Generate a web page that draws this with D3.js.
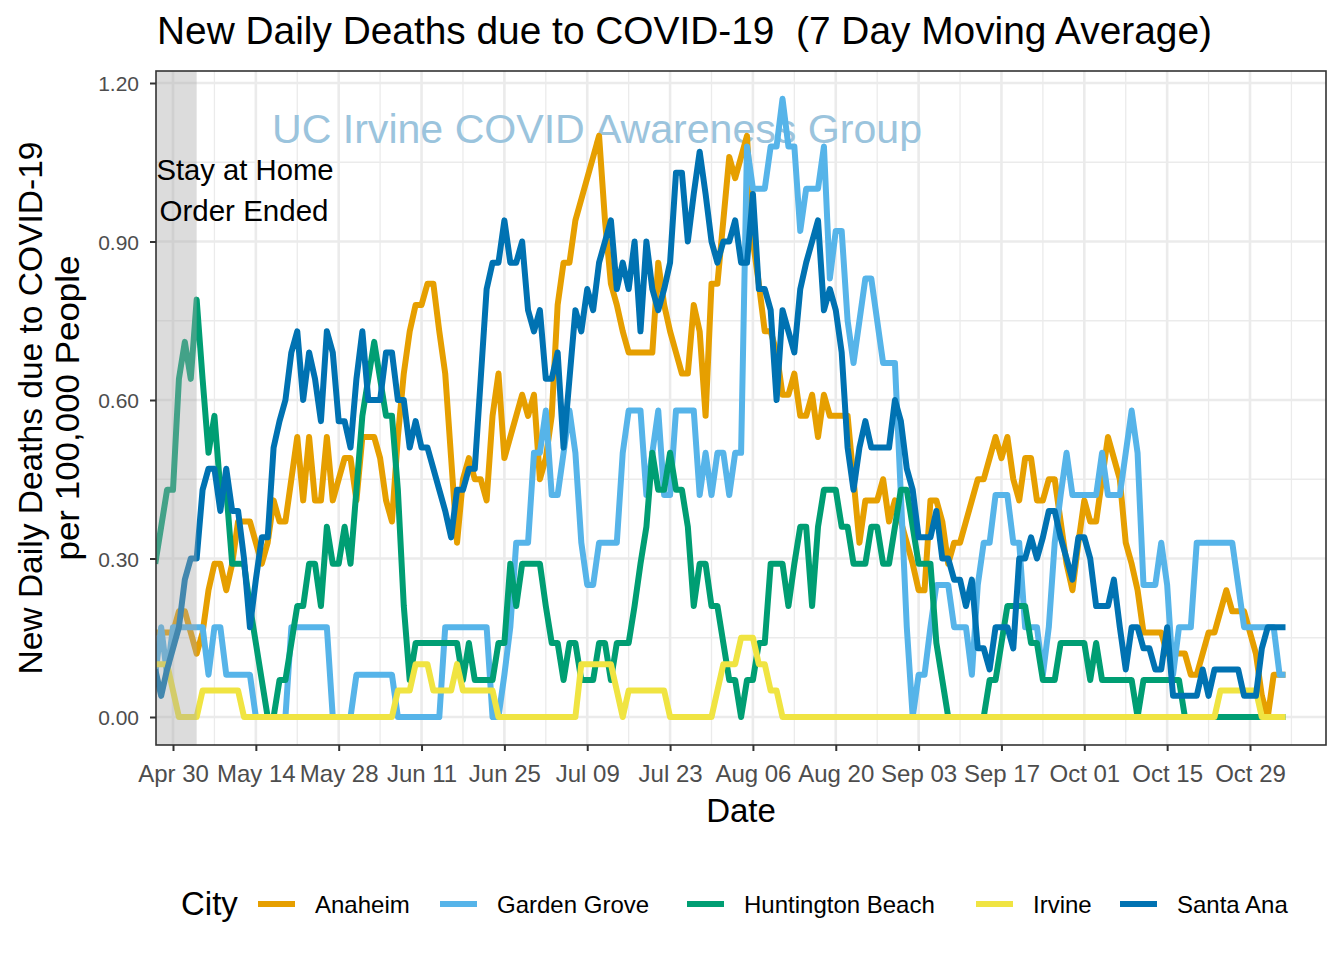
<!DOCTYPE html>
<html><head><meta charset="utf-8">
<script src="https://cdn.jsdelivr.net/npm/d3@7"></script>
<style>
body{margin:0;background:#fff}
svg{display:block}
text{font-family:"Liberation Sans",Arial,Helvetica,sans-serif}
</style>
</head><body>
<svg id="chart" width="1344" height="960"></svg>
<script>
// ---------------- DATA ----------------
const startDate = "2020-04-27";   // first day of every series (one value per day)
const cities = ["Anaheim", "Garden Grove", "Huntington Beach", "Irvine", "Santa Ana"];
const cityColors = ["#E69F00", "#56B4E9", "#009E73", "#F0E442", "#0072B2"];

const anaheim = [
 .16,.16,.16,.16,.20,.20,.16,.12,.16,.24,
 .29,.29,.24,.29,.37,.37,.37,.33,.29,.33,
 .41,.37,.37,.45,.53,.41,.53,.41,.41,.53,
 .41,.45,.49,.49,.41,.53,.53,.53,.49,.41,
 .37,.53,.65,.73,.78,.78,.82,.82,.73,.65,
 .49,.33,.45,.49,.45,.45,.41,.57,.65,.49,
 .53,.57,.61,.57,.61,.45,.49,.57,.78,.86,
 .86,.94,.98,1.02,1.06,1.10,.94,.82,.78,.73,
 .69,.69,.69,.69,.69,.86,.78,.73,.69,.65,
 .65,.78,.73,.57,.82,.82,.94,1.06,1.02,1.06,
 1.10,.90,.82,.73,.73,.69,.61,.61,.65,.57,
 .57,.61,.53,.61,.57,.57,.57,.57,.45,.33,
 .41,.41,.41,.45,.37,.41,.37,.33,.29,.24,
 .24,.41,.41,.37,.29,.33,.33,.37,.41,.45,
 .45,.49,.53,.49,.53,.45,.41,.49,.49,.41,
 .41,.45,.45,.37,.29,.24,.33,.41,.37,.37,
 .45,.53,.49,.45,.33,.29,.24,.16,.16,.16,
 .16,.12,.12,.12,.12,.08,.08,.12,.16,.16,
 .20,.24,.20,.20,.20,.16,.12,.04,0,.08,
 .08,.08
];
const gardenGrove = [
 .08,.17,.08,.17,.17,.17,.17,.17,.17,.08,
 .17,.17,.08,.08,.08,.08,.08,0,0,0,
 0,0,0,.17,.17,.17,.17,.17,.17,.17,
 0,0,0,0,.08,.08,.08,.08,.08,.08,
 .08,0,0,0,0,0,0,0,0,.17,
 .17,.17,.17,.17,.17,.17,.17,0,0,.08,
 .17,.33,.33,.33,.50,.50,.58,.42,.42,.50,
 .58,.50,.33,.25,.25,.33,.33,.33,.33,.50,
 .58,.58,.58,.42,.50,.58,.42,.42,.58,.58,
 .58,.58,.42,.50,.42,.50,.50,.42,.50,.50,
 1.08,1.00,1.00,1.00,1.08,1.08,1.17,1.08,1.08,.92,
 1.00,1.00,1.00,1.08,.83,.92,.92,.75,.67,.75,
 .83,.83,.75,.67,.67,.67,.42,.17,0,.08,
 .08,.17,.25,.25,.25,.17,.17,.17,.08,.25,
 .33,.33,.42,.42,.42,.33,.33,.17,.17,.17,
 .08,.17,.33,.42,.50,.42,.42,.42,.42,.42,
 .50,.42,.42,.42,.50,.58,.50,.25,.25,.25,
 .33,.25,.08,.17,.17,.17,.33,.33,.33,.33,
 .33,.33,.33,.25,.17,.17,.17,.17,.17,.17,
 .08,.08
];
const huntingtonBeach = [
 .29,.36,.43,.43,.64,.71,.64,.79,.64,.50,
 .57,.43,.43,.29,.29,.29,.21,.14,.07,0,
 0,.07,.07,.14,.21,.21,.29,.29,.21,.36,
 .29,.29,.36,.29,.43,.57,.64,.71,.64,.57,
 .57,.43,.21,.07,.14,.14,.14,.14,.14,.14,
 .14,.14,.07,.14,.07,.07,.07,.07,.14,.14,
 .29,.21,.29,.29,.29,.29,.21,.14,.14,.07,
 .14,.14,.07,.07,.07,.14,.14,.07,.14,.14,
 .14,.21,.29,.36,.50,.43,.43,.50,.43,.43,
 .36,.21,.29,.29,.21,.21,.14,.07,.07,0,
 .07,.07,.14,.14,.29,.29,.29,.21,.29,.36,
 .36,.21,.36,.43,.43,.43,.36,.36,.29,.29,
 .29,.36,.36,.29,.29,.36,.43,.43,.36,.29,
 .29,.29,.14,.07,0,0,0,0,0,0,
 0,.07,.07,.14,.21,.21,.21,.21,.14,.14,
 .07,.07,.07,.14,.14,.14,.14,.14,.07,.14,
 .07,.07,.07,.07,.07,.07,0,.07,.07,.07,
 .07,.07,.07,.07,0,0,0,0,0,0,
 0,0,0,0,0,0,0,0,0,0,
 0,0
];
const irvine = [
 .10,.10,.10,.05,0,0,0,0,.05,.05,
 .05,.05,.05,.05,.05,0,0,0,0,0,
 0,0,0,0,0,0,0,0,0,0,
 0,0,0,0,0,0,0,0,0,0,
 0,.05,.05,.05,.10,.10,.10,.05,.05,.05,
 .05,.10,.05,.05,.05,.05,.05,.05,0,0,
 0,0,0,0,0,0,0,0,0,0,
 0,0,.10,.10,.10,.10,.10,.10,.05,0,
 .05,.05,.05,.05,.05,.05,.05,0,0,0,
 0,0,0,0,0,.05,.10,.10,.10,.15,
 .15,.15,.10,.10,.05,.05,0,0,0,0,
 0,0,0,0,0,0,0,0,0,0,
 0,0,0,0,0,0,0,0,0,0,
 0,0,0,0,0,0,0,0,0,0,
 0,0,0,0,0,0,0,0,0,0,
 0,0,0,0,0,0,0,0,0,0,
 0,0,0,0,0,0,0,0,0,0,
 0,0,0,0,0,0,0,0,0,0,
 .05,.05,.05,.05,.05,.05,.05,0,0,0,
 0,0
];
const santaAna = [
 .09,.04,.09,.13,.17,.26,.30,.30,.43,.47,
 .47,.39,.47,.39,.39,.30,.17,.26,.34,.34,
 .51,.56,.60,.69,.73,.60,.69,.64,.56,.73,
 .69,.56,.56,.51,.64,.73,.60,.60,.60,.69,
 .69,.60,.60,.51,.56,.51,.51,.47,.43,.39,
 .34,.43,.43,.47,.47,.64,.81,.86,.86,.94,
 .86,.86,.90,.77,.73,.77,.64,.64,.69,.51,
 .64,.77,.73,.81,.77,.86,.90,.94,.81,.86,
 .81,.90,.73,.90,.81,.77,.81,.86,1.03,1.03,
 .90,.99,1.07,.99,.90,.86,.90,.90,.94,.86,
 .86,.99,.81,.81,.77,.60,.77,.73,.69,.81,
 .86,.90,.94,.77,.81,.77,.69,.51,.43,.51,
 .56,.51,.51,.51,.51,.60,.56,.47,.43,.34,
 .34,.34,.39,.30,.30,.26,.26,.21,.26,.13,
 .13,.09,.17,.17,.17,.13,.30,.30,.34,.30,
 .34,.39,.39,.34,.30,.26,.34,.34,.30,.21,
 .21,.21,.26,.17,.09,.17,.17,.13,.13,.09,
 .09,.17,.04,.04,.04,.04,.04,.09,.04,.09,
 .09,.09,.09,.09,.04,.04,.04,.13,.17,.17,
 .17,.17
];

const xTickDates  = ["2020-04-30","2020-05-14","2020-05-28","2020-06-11","2020-06-25","2020-07-09","2020-07-23",
                     "2020-08-06","2020-08-20","2020-09-03","2020-09-17","2020-10-01","2020-10-15","2020-10-29"];
const xTickLabels = ["Apr 30","May 14","May 28","Jun 11","Jun 25","Jul 09","Jul 23",
                     "Aug 06","Aug 20","Sep 03","Sep 17","Oct 01","Oct 15","Oct 29"];
const yTickValues = [0, 0.3, 0.6, 0.9, 1.2];
const yTickLabels = ["0.00","0.30","0.60","0.90","1.20"];
const orderEndDate = "2020-05-04";

// ---------------- CHART ----------------
const series = [anaheim, gardenGrove, huntingtonBeach, irvine, santaAna];
const parse = d3.utcParse("%Y-%m-%d");
const start = parse(startDate);
const dates = anaheim.map((_, i) => d3.utcDay.offset(start, i));

const P = {left: 156, right: 1326, top: 71, bottom: 745};
const x = d3.scaleUtc().domain([parse("2020-04-30"), parse("2020-10-29")]).range([173, 1250]);
const y = d3.scaleLinear().domain([0, 1.2]).range([717, 83]);

const svg = d3.select("#chart");
svg.append("rect").attr("width", 1344).attr("height", 960).attr("fill", "#fff");

svg.append("defs").append("clipPath").attr("id", "clip")
  .append("rect").attr("x", P.left).attr("y", P.top)
  .attr("width", P.right - P.left).attr("height", P.bottom - P.top);

const grid = svg.append("g");
const majorX = xTickDates.map(parse);
const minorX = d3.range(-1, 14).map(k => d3.utcDay.offset(majorX[0], 14 * k + 7))
  .filter(d => x(d) > P.left && x(d) < P.right);
const minorY = [-0.15, 0.15, 0.45, 0.75, 1.05].filter(v => y(v) > P.top && y(v) < P.bottom);
grid.selectAll(".mx").data(minorX).enter().append("line")
  .attr("x1", d => x(d)).attr("x2", d => x(d)).attr("y1", P.top).attr("y2", P.bottom)
  .attr("stroke", "#EBEBEB").attr("stroke-width", 1.3);
grid.selectAll(".my").data(minorY).enter().append("line")
  .attr("y1", d => y(d)).attr("y2", d => y(d)).attr("x1", P.left).attr("x2", P.right)
  .attr("stroke", "#EBEBEB").attr("stroke-width", 1.3);
grid.selectAll(".Mx").data(majorX).enter().append("line")
  .attr("x1", d => x(d)).attr("x2", d => x(d)).attr("y1", P.top).attr("y2", P.bottom)
  .attr("stroke", "#EBEBEB").attr("stroke-width", 2.6);
grid.selectAll(".My").data(yTickValues).enter().append("line")
  .attr("y1", d => y(d)).attr("y2", d => y(d)).attr("x1", P.left).attr("x2", P.right)
  .attr("stroke", "#EBEBEB").attr("stroke-width", 2.6);

// watermark
svg.append("text").attr("x", 597).attr("y", 143).attr("text-anchor", "middle")
  .attr("font-size", 41).attr("fill", "#9BC4DD")
  .attr("textLength", 650).attr("lengthAdjust", "spacingAndGlyphs")
  .text("UC Irvine COVID Awareness Group");

// lines
const line = d3.line().x((d, i) => x(dates[i])).y(d => y(d));
const lg = svg.append("g").attr("clip-path", "url(#clip)");
series.forEach((s, k) => {
  lg.append("path").datum(s).attr("d", line)
    .attr("fill", "none").attr("stroke", cityColors[k]).attr("stroke-width", 6)
    .attr("stroke-linejoin", "round").attr("stroke-linecap", "butt");
});

// stay-at-home shaded region (drawn over the lines, translucent)
svg.append("rect").attr("clip-path", "url(#clip)")
  .attr("x", x(start)).attr("y", P.top)
  .attr("width", x(parse(orderEndDate)) - x(start)).attr("height", P.bottom - P.top)
  .attr("fill", "#A8A8A8").attr("opacity", 0.4);

svg.append("text").attr("x", 245).attr("y", 179.5).attr("text-anchor", "middle")
  .attr("font-size", 29).attr("fill", "#000")
  .attr("textLength", 177).attr("lengthAdjust", "spacingAndGlyphs").text("Stay at Home");
svg.append("text").attr("x", 244).attr("y", 221).attr("text-anchor", "middle")
  .attr("font-size", 29).attr("fill", "#000")
  .attr("textLength", 169).attr("lengthAdjust", "spacingAndGlyphs").text("Order Ended");

// panel border
svg.append("rect").attr("x", P.left).attr("y", P.top)
  .attr("width", P.right - P.left).attr("height", P.bottom - P.top)
  .attr("fill", "none").attr("stroke", "#333333").attr("stroke-width", 1.6);

// axes
const xAxis = svg.append("g").attr("transform", `translate(0,${P.bottom})`)
  .call(d3.axisBottom(x).tickValues(majorX).tickFormat((d, i) => xTickLabels[i]).tickSize(6).tickSizeOuter(0));
xAxis.select(".domain").remove();
xAxis.selectAll(".tick line").attr("stroke", "#333333").attr("stroke-width", 2);
xAxis.selectAll(".tick text").attr("y", 37).attr("dy", null)
  .attr("font-size", 24).attr("fill", "#4D4D4D").attr("font-family", "Liberation Sans, Arial, sans-serif");

const yAxis = svg.append("g").attr("transform", `translate(${P.left},0)`)
  .call(d3.axisLeft(y).tickValues(yTickValues).tickFormat((d, i) => yTickLabels[i]).tickSize(6).tickSizeOuter(0));
yAxis.select(".domain").remove();
yAxis.selectAll(".tick line").attr("stroke", "#333333").attr("stroke-width", 2);
yAxis.selectAll(".tick text").attr("x", -17).attr("dy", "0.36em")
  .attr("font-size", 21).attr("fill", "#4D4D4D").attr("font-family", "Liberation Sans, Arial, sans-serif");

// titles
svg.append("text").attr("x", 157).attr("y", 44).attr("font-size", 39).attr("fill", "#000")
  .style("white-space", "pre").attr("xml:space", "preserve")
  .attr("textLength", 1055).attr("lengthAdjust", "spacingAndGlyphs")
  .text("New Daily Deaths due to COVID-19  (7 Day Moving Average)");

svg.append("text").attr("x", (P.left + P.right) / 2).attr("y", 822).attr("text-anchor", "middle")
  .attr("font-size", 33).attr("fill", "#000").text("Date");

const yl = svg.append("g").attr("transform", `translate(0,${(P.top + P.bottom) / 2})`);
yl.append("text").attr("transform", "translate(42,0) rotate(-90)").attr("text-anchor", "middle")
  .attr("font-size", 33).attr("fill", "#000")
  .attr("textLength", 533).attr("lengthAdjust", "spacingAndGlyphs")
  .text("New Daily Deaths due to COVID-19");
yl.append("text").attr("transform", "translate(79,0) rotate(-90)").attr("text-anchor", "middle")
  .attr("font-size", 33).attr("fill", "#000")
  .attr("textLength", 305).attr("lengthAdjust", "spacingAndGlyphs")
  .text("per 100,000 People");

// legend
const legend = svg.append("g");
legend.append("text").attr("x", 181).attr("y", 915).attr("font-size", 33).attr("fill", "#000").text("City");
const keyX = [258, 440, 687, 976, 1120];
cities.forEach((c, k) => {
  legend.append("line").attr("x1", keyX[k]).attr("x2", keyX[k] + 37).attr("y1", 904).attr("y2", 904)
    .attr("stroke", cityColors[k]).attr("stroke-width", 6);
  legend.append("text").attr("x", keyX[k] + 57).attr("y", 913).attr("font-size", 24).attr("fill", "#000").text(c);
});
</script>
</body></html>
